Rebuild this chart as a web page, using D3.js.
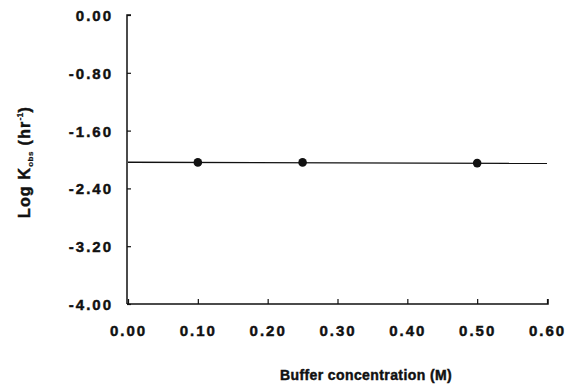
<!DOCTYPE html>
<html>
<head>
<meta charset="utf-8">
<script src="https://cdn.jsdelivr.net/npm/d3@7"></script>
<style>
  body { margin: 0; background: #fff; }
  text { font-family: "Liberation Sans", Arial, sans-serif; font-weight: bold; fill: #111; stroke: #111; stroke-width: 0.45px; }
</style>
</head>
<body>
<svg width="569" height="384"></svg>
<script>
// data
var bufferConc = [0.10, 0.25, 0.50];
var logKobs = [-2.04, -2.04, -2.05];
var fitX = [0.00, 0.60];
var fitY = [-2.038, -2.055];
var xTicks = [0.00, 0.10, 0.20, 0.30, 0.40, 0.50, 0.60];
var yTicks = [0.00, -0.80, -1.60, -2.40, -3.20, -4.00];

var svg = d3.select("svg");

var x = d3.scaleLinear().domain([0, 0.6]).range([128, 547]);
var y = d3.scaleLinear().domain([-4, 0]).range([304, 15]);

// plain hyphen for negatives, like the original
var fmt = function(d) { return d3.format(".2f")(d).replace("\u2212", "-"); };

// x axis, ticks point inward
var xa = svg.append("g")
    .attr("transform", "translate(0,304)")
    .call(d3.axisBottom(x).tickValues(xTicks).tickSize(-5).tickPadding(0).tickFormat(fmt));
xa.select(".domain").attr("stroke", "#111").attr("stroke-width", 1.5).attr("d", "M127,0H548V-5");
xa.selectAll(".tick line").attr("stroke", "#111").attr("stroke-width", 1.2);
xa.selectAll(".tick text")
    .attr("y", 32).attr("dy", 0)
    .attr("font-size", 15).attr("letter-spacing", 2)
    .attr("font-family", null);

// y axis
var ya = svg.append("g")
    .attr("transform", "translate(127,0)")
    .call(d3.axisLeft(y).tickValues(yTicks).tickSize(-4).tickPadding(0).tickFormat(fmt));
ya.select(".domain").attr("stroke", "#111").attr("stroke-width", 1.5).attr("d", "M4,15H0V304");
ya.selectAll(".tick line").attr("stroke", "#111").attr("stroke-width", 1.2);
ya.selectAll(".tick text")
    .attr("x", -14).attr("dy", "0.36em")
    .attr("font-size", 15).attr("letter-spacing", 2)
    .attr("font-family", null);
ya.selectAll(".tick text").filter(function(d) { return d === 0; }).text("0.00");

// fitted line
var line = d3.line().x(function(d) { return x(d[0]); }).y(function(d) { return y(d[1]); });
svg.append("path")
    .datum(d3.zip(fitX, fitY))
    .attr("d", line)
    .attr("fill", "none")
    .attr("stroke", "#111")
    .attr("stroke-width", 1.3);

// points
svg.selectAll("circle.pt")
    .data(d3.zip(bufferConc, logKobs))
    .enter().append("circle")
    .attr("class", "pt")
    .attr("cx", function(d) { return x(d[0]); })
    .attr("cy", function(d) { return y(d[1]); })
    .attr("r", 4.3)
    .attr("fill", "#111");

// axis titles
svg.append("text")
    .attr("x", 366).attr("y", 380)
    .attr("text-anchor", "middle")
    .attr("font-size", 14).attr("letter-spacing", 0.4)
    .text("Buffer concentration (M)");

var yt = svg.append("text")
    .attr("transform", "translate(30,162) rotate(-90)")
    .attr("text-anchor", "middle")
    .attr("font-size", 16).attr("letter-spacing", 1.2);
yt.append("tspan").text("Log K");
yt.append("tspan").attr("font-size", 8).attr("dy", 3).attr("letter-spacing", 0.5).attr("stroke-width", 0.2).text("obs");
yt.append("tspan").attr("dy", -3).text(" (hr");
yt.append("tspan").attr("font-size", 9).attr("dy", -7).attr("letter-spacing", 0).attr("stroke-width", 0.2).text("-1");
yt.append("tspan").attr("dy", 7).text(")");
</script>
</body>
</html>
